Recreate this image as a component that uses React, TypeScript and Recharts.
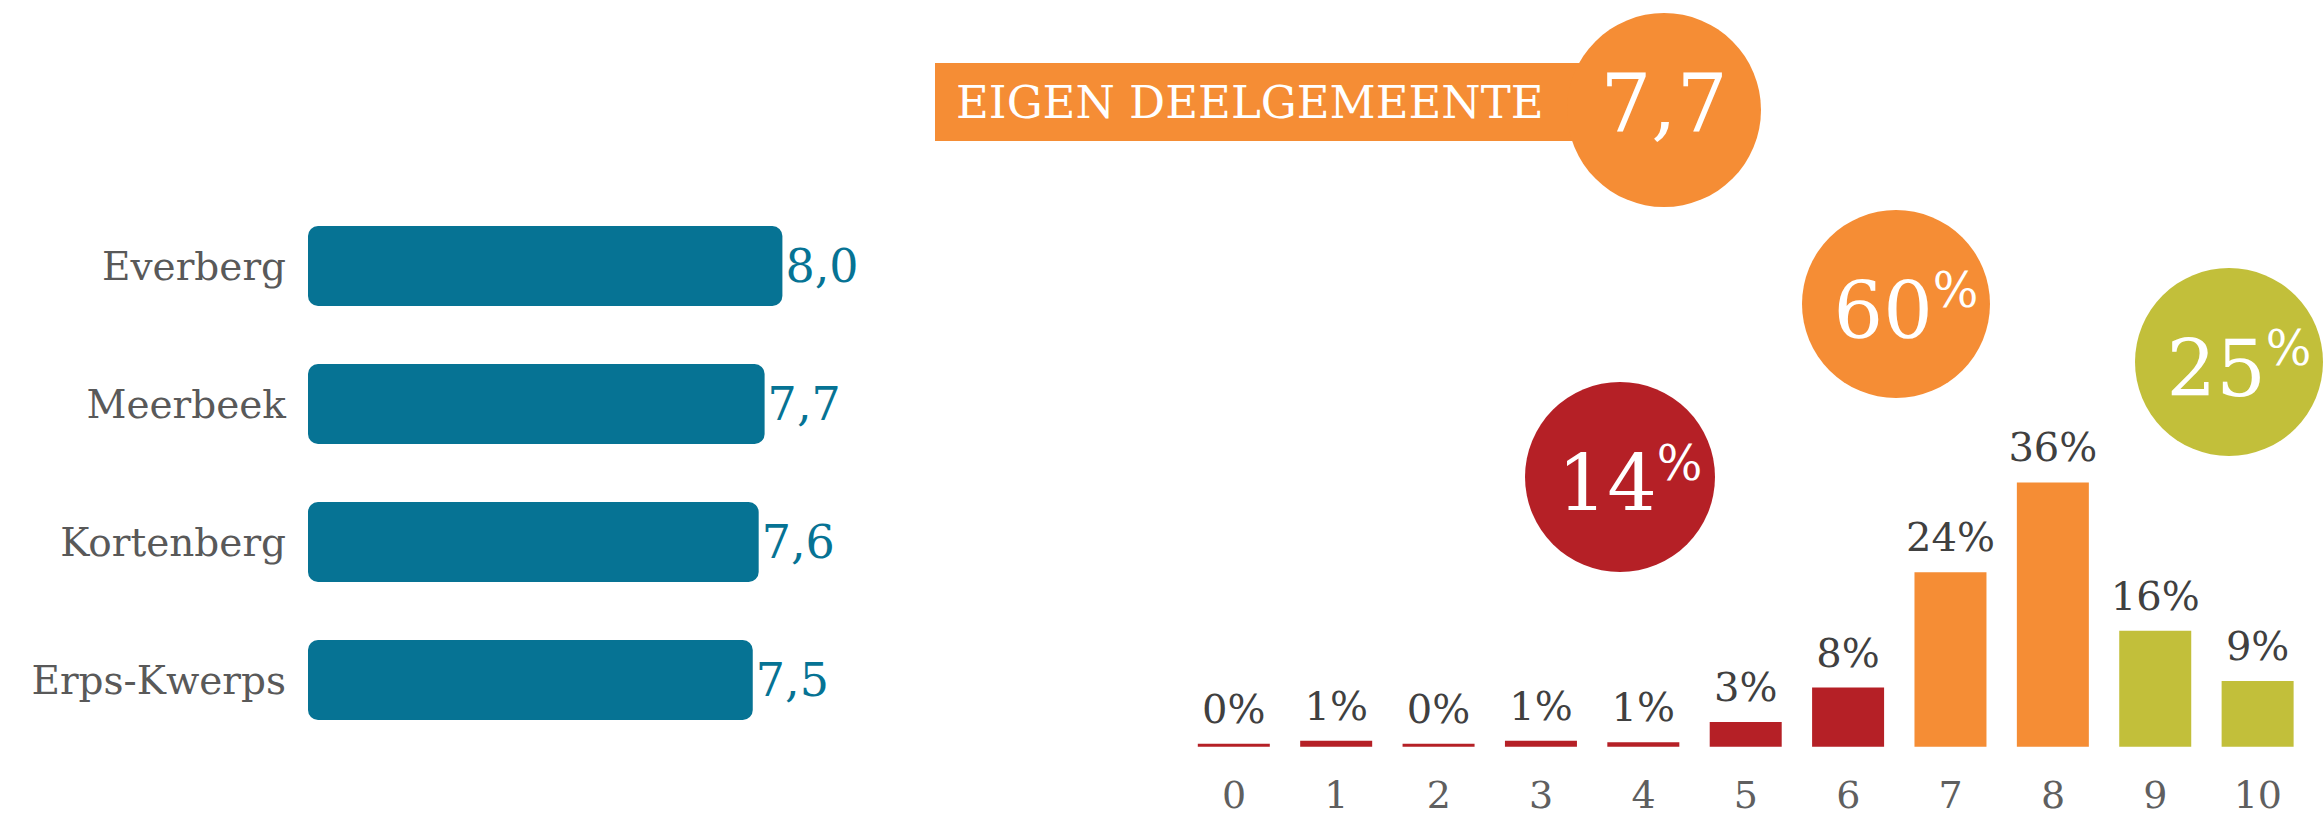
import React from 'react';
import { BarChart, Bar, XAxis, YAxis, LabelList, Cell } from 'recharts';

// ---- data ----
const regions = ['Everberg', 'Meerbeek', 'Kortenberg', 'Erps-Kwerps'];
const regionScores = [8.0, 7.7, 7.6, 7.5];

const scoreCategories = ['0', '1', '2', '3', '4', '5', '6', '7', '8', '9', '10'];
const scoreShares = [0.4, 0.8, 0.4, 0.8, 0.6, 3.4, 8.1, 23.9, 36.2, 15.9, 9.0];
const shareLabels = ['0%', '1%', '0%', '1%', '1%', '3%', '8%', '24%', '36%', '16%', '9%'];
const scoreGroup = [0, 0, 0, 0, 0, 0, 0, 1, 1, 2, 2];

const groupShares = [14, 60, 25];
const ownTitle = 'EIGEN DEELGEMEENTE';
const ownScore = '7,7';

// ---- style ----
const FONT = "'DejaVu Serif', serif";
const TEAL = '#067394';
const groupColors = ['#B52026', '#F58D35', '#C2BF3A'];
const groupCircles = [
  { cx: 1620, cy: 477, r: 95 },
  { cx: 1896, cy: 304, r: 94 },
  { cx: 2229, cy: 362, r: 94 },
];

const regionData = regions.map((name, i) => ({ name, score: regionScores[i] }));
const histData = scoreCategories.map((cat, i) => ({
  cat,
  share: scoreShares[i],
  label: shareLabels[i],
  group: scoreGroup[i],
}));

const fmtScore = (v: any) => Number(v).toFixed(1).replace('.', ',');

export default function App() {
  return (
    <div style={{ position: 'absolute', left: 0, top: 0, width: 2323, height: 816, background: '#fff', overflow: 'hidden' }}>
      <div style={{ position: 'absolute', left: 0, top: 0 }}>
        <BarChart
          width={910}
          height={816}
          data={regionData}
          layout="vertical"
          margin={{ top: 197, bottom: 67, left: 0, right: 9 }}
        >
          <XAxis type="number" hide domain={[0, 10]} />
          <YAxis
            type="category"
            dataKey="name"
            width={308}
            axisLine={false}
            tickLine={false}
            tickSize={0}
            tickMargin={22}
            tick={{ fontFamily: FONT, fontSize: 39, fill: '#595959' }}
          />
          <Bar dataKey="score" fill={TEAL} barSize={80} radius={10} isAnimationActive={false}>
            <LabelList
              dataKey="score"
              position="right"
              offset={3}
              formatter={fmtScore}
              style={{ fontFamily: FONT, fontSize: 46, fill: TEAL }}
            />
          </Bar>
        </BarChart>
      </div>

      <div style={{ position: 'absolute', left: 1100, top: 0 }}>
        <BarChart
          width={1223}
          height={816}
          data={histData}
          margin={{ top: 454.7, bottom: 9.3, left: 82.8, right: 14 }}
        >
          <YAxis hide domain={[0, 40]} />
          <XAxis
            dataKey="cat"
            height={60}
            axisLine={false}
            tickLine={false}
            tickSize={0}
            tickMargin={34}
            interval={0}
            tick={{ fontFamily: FONT, fontSize: 38, fill: '#5f5f5f' }}
          />
          <Bar dataKey="share" barSize={72} isAnimationActive={false}>
            {histData.map((d, i) => (
              <Cell key={i} fill={groupColors[d.group]} />
            ))}
            <LabelList
              dataKey="label"
              position="top"
              offset={21}
              style={{ fontFamily: FONT, fontSize: 40, fill: '#404040' }}
            />
          </Bar>
        </BarChart>
      </div>

      <svg
        width={2323}
        height={816}
        style={{ position: 'absolute', left: 0, top: 0, pointerEvents: 'none' }}
      >
        <rect x={935} y={63} width={680} height={78} fill="#F58D35" />
        <text x={956} y={118} fontFamily={FONT} fontSize={45} fill="#fff">
          {ownTitle}
        </text>
        <circle cx={1664} cy={110} r={97} fill="#F58D35" />
        <text x={1664} y={131} textAnchor="middle" fontFamily={FONT} fontSize={80} fill="#fff">
          {ownScore}
        </text>
        {groupShares.map((v, i) => {
          const c = groupCircles[i];
          return (
            <g key={i}>
              <circle cx={c.cx} cy={c.cy} r={c.r} fill={groupColors[i]} />
              <text x={c.cx + 10} y={c.cy + 34} textAnchor="middle" fontFamily={FONT} fill="#fff">
                <tspan fontSize={78}>{v}</tspan>
                <tspan fontSize={48} dy={-31}>%</tspan>
              </text>
            </g>
          );
        })}
      </svg>
    </div>
  );
}
